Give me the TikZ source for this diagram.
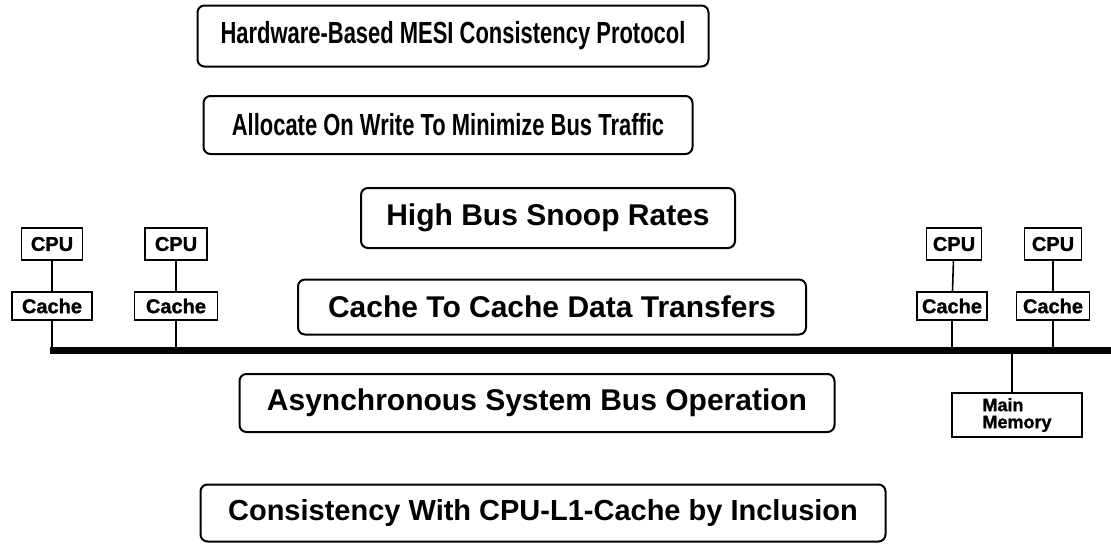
\documentclass[tikz,border=0pt]{standalone}
\usepackage{fontspec}
\setmainfont{Liberation Sans}
\newfontfamily\narrowsans{Liberation Sans}[FakeStretch=0.72]
\newfontfamily\heavysans{Liberation Sans}[FakeBold=1.2]
\usetikzlibrary{positioning}

\tikzset{
  feature/.style={draw, line width=2pt, rounded corners=7pt, minimum height=58pt,
    font=\fontsize{30}{36}\selectfont\bfseries},
  narrowfeature/.style={feature, font=\narrowsans\fontsize{30.5}{36}\selectfont\bfseries},
  unitbox/.style={draw, line width=1.6pt, inner sep=0pt, font=\heavysans\fontsize{20}{22}\selectfont\bfseries},
  link/.style={line width=1.6pt},
}

\begin{document}
\begin{tikzpicture}[x=1pt, y=-1pt]
    \useasboundingbox (0,0) rectangle (1111,546);

    % Feature boxes
    \node[narrowfeature, minimum width=511pt, minimum height=61pt] (mesi) at (453,36) {Hardware-Based MESI Consistency Protocol};
    \node[narrowfeature, minimum width=489pt] (alloc) at (448,125) {Allocate On Write To Minimize Bus Traffic};
    \node[feature, minimum width=374pt, minimum height=60pt] (snoop) at (548,218) {High Bus Snoop Rates};
    \node[feature, minimum width=508pt, minimum height=55pt] (c2c) at (552,307) {Cache To Cache Data Transfers};
    \node[feature, minimum width=595pt] (async) at (537,403) {Asynchronous System Bus Operation};
    \node[feature, minimum width=685pt, minimum height=57pt, font=\fontsize{29}{34}\selectfont\bfseries] (incl) at (543,513) {Consistency With CPU-L1-Cache by Inclusion};

    % Bus
    \coordinate (busL) at (50,350);
    \coordinate (busR) at (1111,350);
    \draw[line width=7pt] (busL) -- (busR);

    % CPUs and caches
    \node[unitbox, minimum width=61pt, minimum height=32pt] (cpuA) at (52,244) {CPU};
    \node[unitbox, minimum width=80pt, minimum height=28pt] (cacheA) at (52,306) {Cache};
    \node[unitbox, minimum width=62pt, minimum height=32pt] (cpuB) at (176,244) {CPU};
    \node[unitbox, minimum width=83pt, minimum height=28pt] (cacheB) at (176,306) {Cache};
    \node[unitbox, minimum width=55pt, minimum height=32pt] (cpuC) at (954,244) {CPU};
    \node[unitbox, minimum width=70pt, minimum height=28pt] (cacheC) at (952,306) {Cache};
    \node[unitbox, minimum width=57pt, minimum height=32pt] (cpuD) at (1053,244) {CPU};
    \node[unitbox, minimum width=73pt, minimum height=28pt] (cacheD) at (1053,306) {Cache};

    % Main memory
    \node[unitbox, minimum width=130pt, minimum height=44pt, align=left,
      font=\heavysans\fontsize{18}{17}\selectfont\bfseries] (mem) at (1017,415) {Main\\Memory};

    % Connections
    \foreach \u in {A,B,C,D} {
      \draw[link] (cpu\u) -- (cache\u);
      \draw[link] (cache\u) -- (cache\u |- busL);
    }
    \draw[link] (mem.north -| 1012,0) -- (1012,350);
\end{tikzpicture}
\end{document}
